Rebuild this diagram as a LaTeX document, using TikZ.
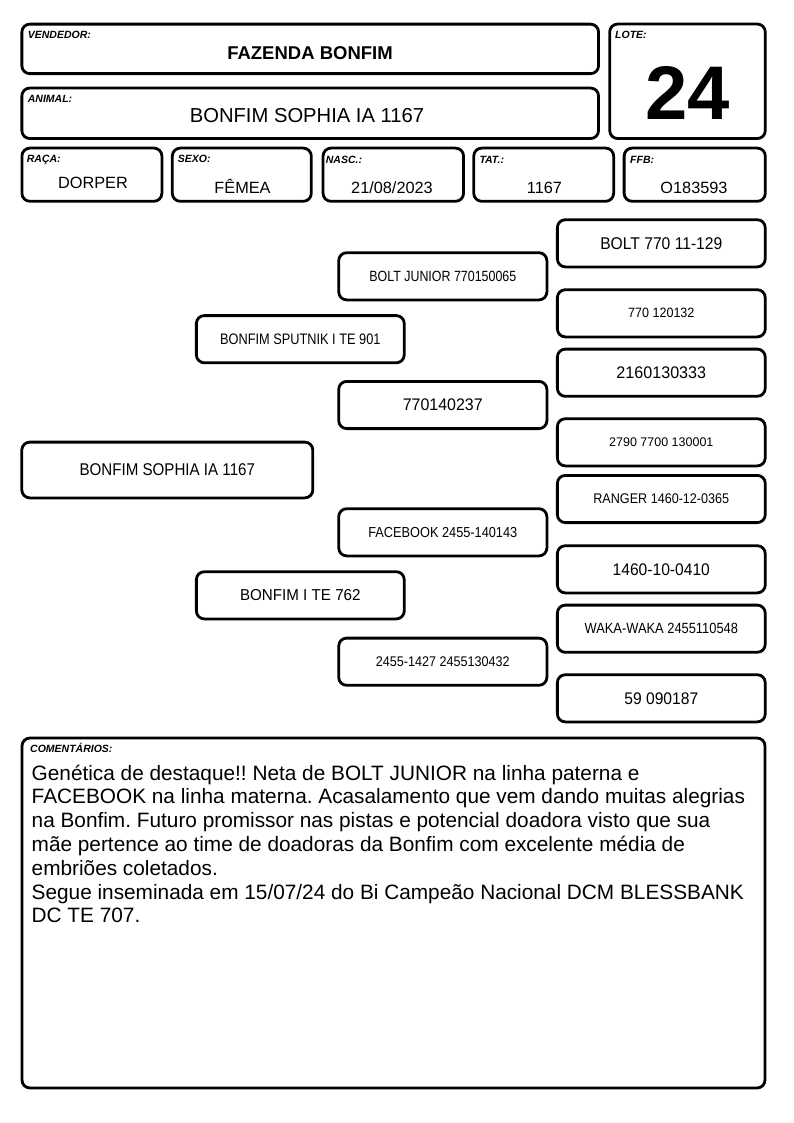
\documentclass[tikz,border=0pt]{standalone}
\usepackage{fontspec}
\usepackage{graphicx}
\setmainfont{Liberation Sans}
\newcommand\ptxt[3]{\scalebox{#2}[1]{\fontsize{#1}{#1}\selectfont #3}}
\frenchspacing
\begin{document}
\begin{tikzpicture}[x=1pt,y=-1pt,
  box/.style={draw=black, line width=2.8pt, rounded corners=8pt, inner sep=0pt, fill=white},
  lbl/.style={anchor=base west, inner sep=0pt, font=\fontsize{10.5}{11}\selectfont\bfseries\itshape},
  val/.style={anchor=base, inner sep=0pt, font=\fontsize{16.3}{17}\selectfont},
  g3/.style={box, minimum width=207.9pt, minimum height=47.2pt},
  g2/.style={box, minimum width=208.2pt, minimum height=47.2pt},
  g1/.style={box, minimum width=207.9pt, minimum height=47.2pt},
]
\useasboundingbox[fill=white] (0,0) rectangle (794,1123);

% header boxes
\node[box, minimum width=576.7pt, minimum height=49.5pt] (vend) at (310.2,48.9) {};
\node[box, minimum width=576.7pt, minimum height=50.5pt] (anim) at (310.2,113.3) {};
\node[box, minimum width=155.6pt, minimum height=114.5pt] (lote) at (687.5,81.3) {};
\node[box, minimum width=140pt, minimum height=53.2pt] (raca) at (91.9,174.7) {};
\node[box, minimum width=139pt, minimum height=53.2pt] (sexo) at (241.8,174.7) {};
\node[box, minimum width=140.5pt, minimum height=53.2pt] (nasc) at (393.3,174.7) {};
\node[box, minimum width=139.9pt, minimum height=53.2pt] (tat) at (543.7,174.7) {};
\node[box, minimum width=141.2pt, minimum height=53.2pt] (ffb) at (694.7,174.7) {};

% labels
\node[lbl] (lvend) at (27.7,38.5) {VENDEDOR:};
\node[lbl] (lanim) at (27.7,103) {ANIMAL:};
\node[lbl] (llote) at (615,39) {LOTE:};
\node[lbl] (lraca) at (26.7,163) {RAÇA:};
\node[lbl] (lsexo) at (177.7,163) {SEXO:};
\node[lbl] (lnasc) at (325.7,163.5) {NASC.:};
\node[lbl] (ltat) at (479.3,163.5) {TAT.:};
\node[lbl] (lffb) at (630,163.5) {FFB:};

% values
\node[anchor=base, inner sep=0pt, font=\fontsize{18.5}{19}\selectfont\bfseries] (vvend) at (310,60) {FAZENDA BONFIM};
\node[anchor=base, inner sep=0pt, font=\fontsize{20.2}{21}\selectfont] (vanim) at (307,122.7) {BONFIM SOPHIA IA 1167};
\node[inner sep=0pt, font=\fontsize{76}{76}\selectfont\bfseries] (vlote) at (687.5,92.5) {24};
\node[val] (vraca) at (93,188.3) {DORPER};
\node[val] (vsexo) at (242.5,193.3) {FÊMEA};
\node[val] (vnasc) at (392,193.3) {21/08/2023};
\node[val] (vtat) at (544.5,193.3) {1167};
\node[val] (vffb) at (694,193.3) {O183593};

% pedigree - generation 3
\node[g3] (g3a) at (661.3,243.3) {\ptxt{17}{0.92}{BOLT 770 11-129}};
\node[g3] (g3b) at (661.3,313.3) {\ptxt{13.5}{0.93}{770 120132}};
\node[g3] (g3c) at (661.3,372.7) {\ptxt{16.8}{0.96}{2160130333}};
\node[g3] (g3d) at (661.3,442.3) {\ptxt{12.5}{1.0}{2790 7700 130001}};
\node[g3] (g3e) at (661.3,499) {\ptxt{14}{0.9}{RANGER 1460-12-0365}};
\node[g3] (g3f) at (661.3,569.3) {\ptxt{16.8}{0.93}{1460-10-0410}};
\node[g3] (g3g) at (661.3,628.7) {\ptxt{14.8}{0.87}{WAKA-WAKA 2455110548}};
\node[g3] (g3h) at (661.3,698.3) {\ptxt{16.8}{0.93}{59 090187}};
% generation 2
\node[g2] (g2a) at (442.8,276.3) {\ptxt{14.8}{0.84}{BOLT JUNIOR 770150065}};
\node[g2] (g2b) at (442.8,405) {\ptxt{16.8}{0.95}{770140237}};
\node[g2] (g2c) at (442.8,532.3) {\ptxt{14.5}{0.88}{FACEBOOK 2455-140143}};
\node[g2] (g2d) at (442.8,661.7) {\ptxt{14}{0.9}{2455-1427 2455130432}};
% generation 1
\node[g1] (g1a) at (300.3,339.2) {\ptxt{15.2}{0.84}{BONFIM SPUTNIK I TE 901}};
\node[g1] (g1b) at (300.3,595.3) {\ptxt{15.8}{0.96}{BONFIM I TE 762}};
% animal
\node[box, minimum width=291pt, minimum height=55.8pt] (g0) at (167.3,470) {\ptxt{17}{0.89}{BONFIM SOPHIA IA 1167}};

% comments
\node[box, minimum width=743pt, minimum height=350pt] (com) at (393.5,913) {};
\node[lbl] (lcom) at (30,752.5) {COMENTÁRIOS:};
\node[anchor=base west, inner sep=0pt, align=left, font=\fontsize{20.8}{23.8}\selectfont] (tcom) at (31.5,922.8) {Genética de destaque!! Neta de BOLT JUNIOR na linha paterna e\\
FACEBOOK na linha materna. Acasalamento que vem dando muitas alegrias\\
na Bonfim. Futuro promissor nas pistas e potencial doadora visto que sua\\
mãe pertence ao time de doadoras da Bonfim com excelente média de\\
embriões coletados.\\
Segue inseminada em 15/07/24 do Bi Campeão Nacional DCM BLESSBANK\\
DC TE 707.};
\end{tikzpicture}
\end{document}
